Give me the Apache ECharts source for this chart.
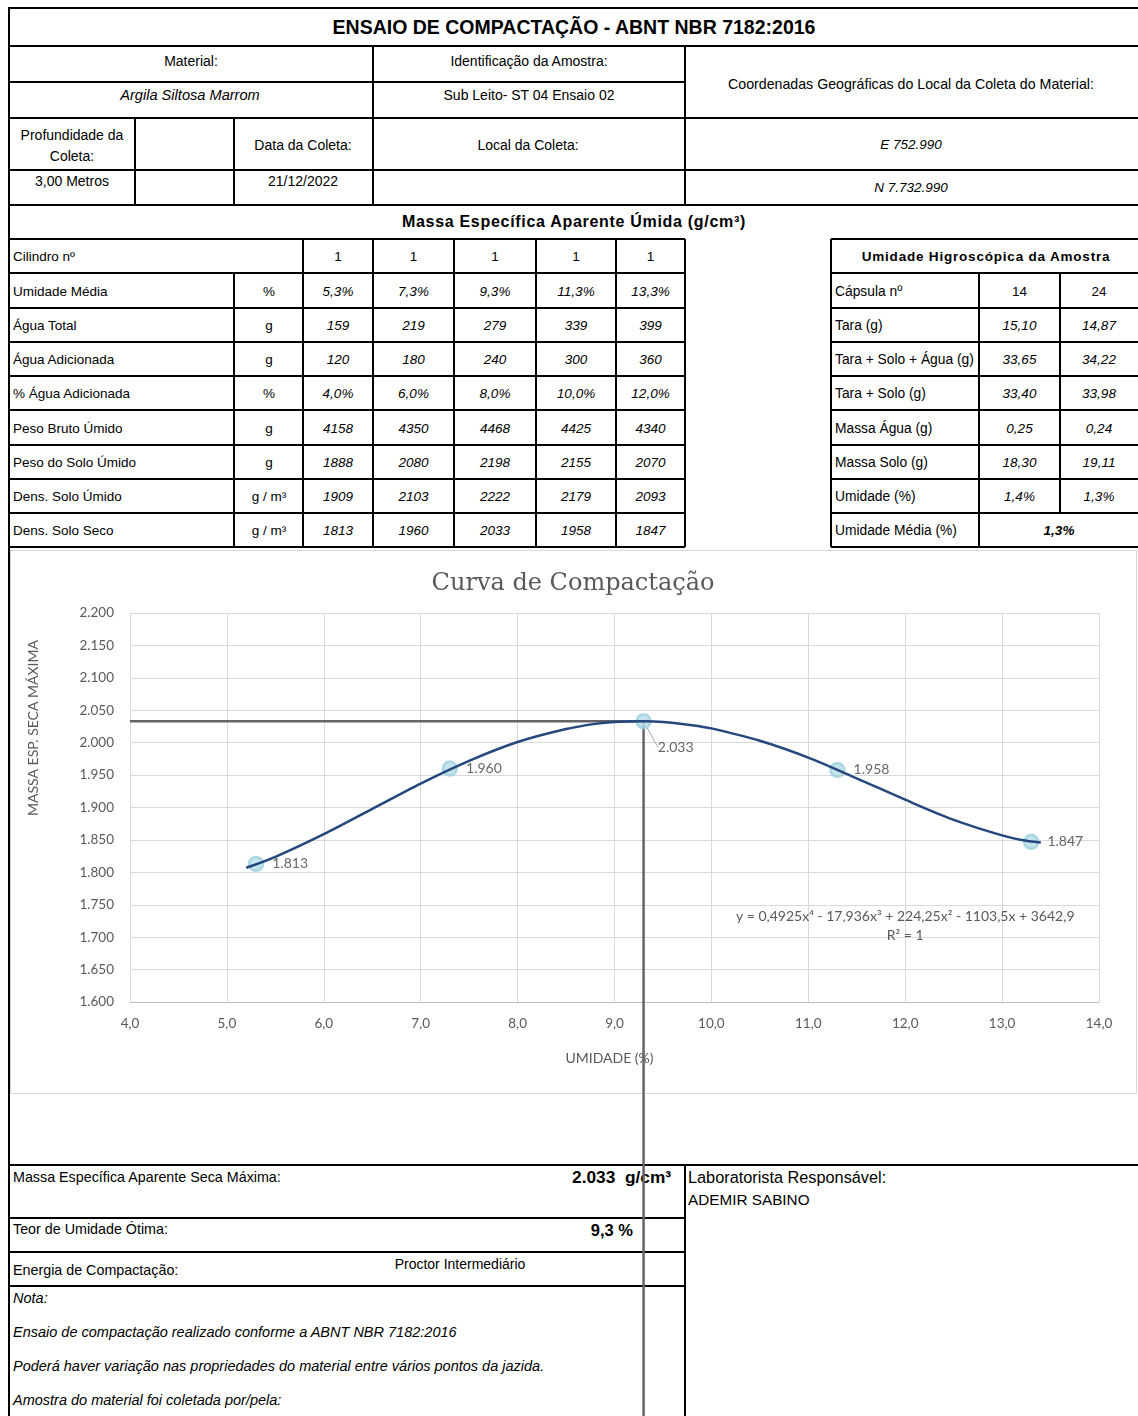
<!DOCTYPE html>
<html>
<head>
<meta charset="utf-8">
<script src="https://cdn.jsdelivr.net/npm/echarts@6/dist/echarts.min.js"></script>
<style>
  html, body { margin: 0; padding: 0; background: #fff; }
  #page {
    position: relative; width: 1138px; height: 1416px; overflow: hidden;
    font-family: "Liberation Sans", Arial, sans-serif; font-size: 13.5px; color: #000;
  }
  .h { position: absolute; height: 2px; background: #000; z-index: 3; }
  .v { position: absolute; width: 2px; background: #000; z-index: 3; }
  .t { position: absolute; white-space: nowrap; line-height: 1; z-index: 2; }
  #chartArea {
    position: absolute; left: 10px; top: 550px; width: 1127px; height: 544px;
    border: 1px solid #d9d9d9; box-sizing: border-box;
  }
  #chart { position: absolute; left: 0; top: 0; width: 1138px; height: 1416px; pointer-events: none; z-index: 5; }
</style>
</head>
<body>
<div id="page">
  <div id="chartArea"></div>
  <div id="chart"></div>
</div>
<script>
// --- chart data (Curva de Compactação) ---
const umidade = [5.3, 7.3, 9.3, 11.3, 13.3];
const densSeca = [1813, 1960, 2033, 1958, 1847];
// trend line (polynomial trendline)
const trendX = [5.2, 5.5, 6.0, 6.5, 7.0, 7.5, 8.0, 8.5, 8.8, 9.0, 9.3, 9.5, 9.8, 10.0, 10.5, 11.0, 11.5, 12.0, 12.5, 13.0, 13.2, 13.4];
const trendY = [1807, 1824, 1859, 1898, 1937, 1972, 2001, 2021, 2029, 2032, 2033, 2032, 2027, 2022, 2003, 1977, 1945, 1912, 1881, 1857, 1850, 1846];
const umidadeOtima = 9.3;
const densMax = 2033;
const xTicks = { min: 4, max: 14, step: 1 };
const yTicks = { min: 1600, max: 2200, step: 50 };
const equacao = 'y = 0,4925x⁴ - 17,936x³ + 224,25x² - 1103,5x + 3642,9';
const r2 = 'R² = 1';

// --- table data ---
const rowLabels = ['Cilindro nº', 'Umidade Média', 'Água Total', 'Água Adicionada', '% Água Adicionada',
  'Peso Bruto Úmido', 'Peso do Solo Úmido', 'Dens. Solo Úmido', 'Dens. Solo Seco'];
const rowUnits = ['', '%', 'g', 'g', '%', 'g', 'g', 'g / m³', 'g / m³'];
const cilindro = ['1', '1', '1', '1', '1'];
const umidadeMedia = ['5,3%', '7,3%', '9,3%', '11,3%', '13,3%'];
const aguaTotal = ['159', '219', '279', '339', '399'];
const aguaAdicionada = ['120', '180', '240', '300', '360'];
const pctAguaAdicionada = ['4,0%', '6,0%', '8,0%', '10,0%', '12,0%'];
const pesoBrutoUmido = ['4158', '4350', '4468', '4425', '4340'];
const pesoSoloUmido = ['1888', '2080', '2198', '2155', '2070'];
const densSoloUmido = ['1909', '2103', '2222', '2179', '2093'];
const densSoloSeco = ['1813', '1960', '2033', '1958', '1847'];

const capLabels = ['Cápsula nº', 'Tara (g)', 'Tara + Solo + Água (g)', 'Tara + Solo (g)', 'Massa  Água (g)',
  'Massa Solo (g)', 'Umidade (%)', 'Umidade Média (%)'];
const capsula = ['14', '24'];
const tara = ['15,10', '14,87'];
const taraSoloAgua = ['33,65', '34,22'];
const taraSolo = ['33,40', '33,98'];
const massaAgua = ['0,25', '0,24'];
const massaSolo = ['18,30', '19,11'];
const umidadeCap = ['1,4%', '1,3%'];
const umidadeMediaCap = '1,3%';

// --- helpers for the spreadsheet layout ---
const page = document.getElementById('page');
function box(cls, css) {
  const d = document.createElement('div');
  d.className = cls;
  Object.assign(d.style, css);
  page.appendChild(d);
  return d;
}
function hl(x1, x2, y) { box('h', { left: x1 + 'px', top: (y - 1) + 'px', width: (x2 - x1) + 'px' }); }
function vl(x, y1, y2) { box('v', { left: (x - 1) + 'px', top: y1 + 'px', height: (y2 - y1) + 'px' }); }
function tx(s, x, y, align, extra) {
  const tr = align === 'c' ? 'translate(-50%,-50%)' : align === 'r' ? 'translate(-100%,-50%)' : 'translate(0,-50%)';
  const d = box('t', Object.assign({ left: x + 'px', top: y + 'px', transform: tr }, extra || {}));
  d.textContent = s;
}
const IT = { fontStyle: 'italic' };
const F14 = { fontSize: '14px' };

// header block
vl(9, 7, 1416);
hl(8, 1138, 8);
tx('ENSAIO DE COMPACTAÇÃO - ABNT NBR 7182:2016', 574, 28, 'c', { fontWeight: 'bold', fontSize: '19.5px' });
hl(8, 1138, 46);
vl(373, 46, 205);
vl(685, 46, 205);
hl(8, 685, 82);
hl(8, 1138, 118);
vl(135, 118, 205);
vl(234, 118, 205);
hl(8, 1138, 170);
hl(8, 1138, 205);

tx('Material:', 191, 61, 'c', F14);
tx('Identificação da Amostra:', 529, 61, 'c', F14);
tx('Argila Siltosa Marrom', 190, 95, 'c', { fontStyle: 'italic', fontSize: '14.6px' });
tx('Sub Leito- ST 04 Ensaio 02', 529, 95, 'c', F14);
tx('Coordenadas Geográficas do Local da Coleta do Material:', 911, 84, 'c', { fontSize: '14.2px' });
tx('Profundidade da', 72, 135, 'c', F14);
tx('Coleta:', 72, 156, 'c', F14);
tx('Data da Coleta:', 303, 145, 'c', F14);
tx('Local da Coleta:', 528, 145, 'c', F14);
tx('E 752.990', 911, 145, 'c', IT);
tx('3,00 Metros', 72, 181, 'c', F14);
tx('21/12/2022', 303, 181, 'c', F14);
tx('N 7.732.990', 911, 188, 'c', IT);

tx('Massa Específica Aparente Úmida (g/cm³)', 574, 222, 'c', { fontWeight: 'bold', fontSize: '16px', letterSpacing: '0.7px' });

// left table
const rowTops = [239, 273, 308, 342, 376, 410, 445, 479, 513, 547];
rowTops.forEach(y => hl(8, 685, y));
[303, 373, 454, 536, 616, 685].forEach(x => vl(x, 239, 547));
vl(234, 273, 547);
const colCenters = [338, 413.5, 495, 576, 650.5];
const tableRows = [cilindro, umidadeMedia, aguaTotal, aguaAdicionada, pctAguaAdicionada,
  pesoBrutoUmido, pesoSoloUmido, densSoloUmido, densSoloSeco];
tableRows.forEach((vals, r) => {
  const yc = (rowTops[r] + rowTops[r + 1]) / 2 + 1;
  tx(rowLabels[r], 13, yc, 'l');
  if (rowUnits[r]) tx(rowUnits[r], 269, yc, 'c');
  vals.forEach((v, i) => tx(v, colCenters[i], yc, 'c', r === 0 ? {} : IT));
});

// right table
rowTops.forEach(y => hl(831, 1138, y));
vl(831, 239, 547);
vl(979, 273, 547);
vl(1060, 273, 513);
tx('Umidade Higroscópica da Amostra', 986, 257, 'c', { fontWeight: 'bold', letterSpacing: '0.8px' });
const capRows = [capsula, tara, taraSoloAgua, taraSolo, massaAgua, massaSolo, umidadeCap];
capRows.forEach((vals, r) => {
  const yc = (rowTops[r + 1] + rowTops[r + 2]) / 2 + 1;
  tx(capLabels[r], 835, yc, 'l', { fontSize: '13.8px' });
  vals.forEach((v, i) => tx(v, i === 0 ? 1019.5 : 1099, yc, 'c', r === 0 ? {} : IT));
});
tx(capLabels[7], 835, 531, 'l', { fontSize: '13.8px' });
tx(umidadeMediaCap, 1059, 531, 'c', { fontWeight: 'bold', fontStyle: 'italic' });

// bottom block
hl(8, 1138, 1165);
hl(8, 685, 1218);
hl(8, 685, 1252);
hl(8, 685, 1286);
vl(685, 1165, 1416);
const F143 = { fontSize: '14.3px' };
const IT145 = { fontStyle: 'italic', fontSize: '14.5px' };
tx('Massa Específica Aparente Seca Máxima:', 13, 1177, 'l', F143);
tx('2.033  g/cm³', 671, 1178, 'r', { fontWeight: 'bold', fontSize: '17.3px', whiteSpace: 'pre' });
tx('Laboratorista Responsável:', 688, 1177, 'l', { fontSize: '16.3px' });
tx('ADEMIR SABINO', 688, 1200, 'l', { fontSize: '15.3px' });
tx('Teor de Umidade Ótima:', 13, 1229, 'l', F143);
tx('9,3 %', 633, 1230, 'r', { fontWeight: 'bold', fontSize: '16.5px' });
tx('Energia de Compactação:', 13, 1270, 'l', F143);
tx('Proctor Intermediário', 460, 1264, 'c', F14);
tx('Nota:', 13, 1298, 'l', IT145);
tx('Ensaio de compactação realizado conforme a ABNT NBR 7182:2016', 13, 1332, 'l', IT145);
tx('Poderá haver variação nas propriedades do material entre vários pontos da jazida.', 13, 1366, 'l', IT145);
tx('Amostra do material foi coletada por/pela:', 13, 1400, 'l', IT145);

// --- chart ---
const GRAY = '#595959';
const FONT = 'Lato, "Open Sans", sans-serif';
const milhar = v => { const s = String(Math.round(v)); return s.length > 3 ? s.slice(0, -3) + '.' + s.slice(-3) : s; };
const decimal = v => v.toFixed(1).replace('.', ',');

const pontos = umidade.map((x, i) => {
  const item = { value: [x, densSeca[i]] };
  // only the peak label is pulled away with a leader line
  if (densSeca[i] === densMax) item.labelLine = { show: true, lineStyle: { color: '#a6a6a6', width: 1 } };
  return item;
});

const chart = echarts.init(document.getElementById('chart'));
chart.setOption({
  animation: false,
  title: {
    text: 'Curva de Compactação',
    left: 568, top: 567, textAlign: 'center',
    textStyle: { fontFamily: '"DejaVu Serif", serif', fontWeight: 'normal', fontSize: 24, color: GRAY }
  },
  grid: { left: 130, right: 39, top: 613, bottom: 414 },
  xAxis: {
    type: 'value', min: xTicks.min, max: xTicks.max, interval: xTicks.step,
    axisLine: { show: true, lineStyle: { color: '#bfbfbf' } },
    axisTick: { show: false },
    splitLine: { show: true, lineStyle: { color: '#d9d9d9' } },
    axisLabel: { formatter: decimal, color: GRAY, fontSize: 13.5, fontFamily: FONT, margin: 15 },
    name: 'UMIDADE (%)', nameLocation: 'middle', nameGap: 49,
    nameTextStyle: { color: GRAY, fontSize: 14, fontFamily: FONT, padding: [0, 10, 0, 0] }
  },
  yAxis: {
    type: 'value', min: yTicks.min, max: yTicks.max, interval: yTicks.step,
    axisLine: { show: true, lineStyle: { color: '#d9d9d9' } },
    axisTick: { show: false },
    splitLine: { show: true, lineStyle: { color: '#d9d9d9' } },
    axisLabel: { formatter: milhar, color: GRAY, fontSize: 13.5, fontFamily: FONT, margin: 16 }
  },
  series: [
    {
      type: 'line', data: [[xTicks.min, densMax], [umidadeOtima, densMax]],
      symbol: 'none', lineStyle: { color: '#656565', width: 2.5 }, z: 2, silent: true
    },
    {
      type: 'line', data: [[umidadeOtima, densMax], [umidadeOtima, yTicks.min]],
      symbol: 'none', lineStyle: { color: '#656565', width: 2.5 }, z: 2, silent: true
    },
    {
      type: 'scatter',
      data: pontos,
      symbolSize: 14,
      itemStyle: { color: '#b5dde8', borderColor: '#9dd1df', borderWidth: 2.5 },
      label: {
        show: true, position: 'right', distance: 8,
        formatter: p => milhar(p.value[1]),
        color: '#404040', fontSize: 14, fontFamily: FONT
      },
      labelLayout: p => (p.dataIndex === 2 ? { dx: -2, dy: 26 } : {}),
      labelLine: { show: false },
      z: 3
    },
    {
      type: 'line', data: trendX.map((x, i) => [x, trendY[i]]),
      smooth: 0.3, showSymbol: false,
      lineStyle: { color: '#24487d', width: 2.5 }, z: 4, silent: true
    }
  ]
});

// extend the optimum-moisture line below the plot, through the lower table
const pBase = chart.convertToPixel({ gridIndex: 0 }, [umidadeOtima, yTicks.min]);
const pEq = chart.convertToPixel({ gridIndex: 0 }, [12, 1717]);
chart.setOption({
  graphic: [
    {
      type: 'line', z: 100,
      shape: { x1: pBase[0], y1: pBase[1], x2: pBase[0], y2: chart.getHeight() },
      style: { stroke: '#656565', lineWidth: 2.5 }
    },
    {
      type: 'text', z: 100, x: pEq[0], y: pEq[1],
      style: {
        text: equacao + '\n' + r2, align: 'center', verticalAlign: 'middle',
        fill: GRAY, fontSize: 14, fontFamily: FONT, lineHeight: 19
      }
    },
    {
      type: 'text', z: 100, x: 33, y: 728, rotation: Math.PI / 2,
      style: {
        text: 'MASSA ESP. SECA MÁXIMA', align: 'center', verticalAlign: 'middle',
        fill: GRAY, fontSize: 14, fontFamily: FONT
      }
    }
  ]
});
</script>
</body>
</html>
